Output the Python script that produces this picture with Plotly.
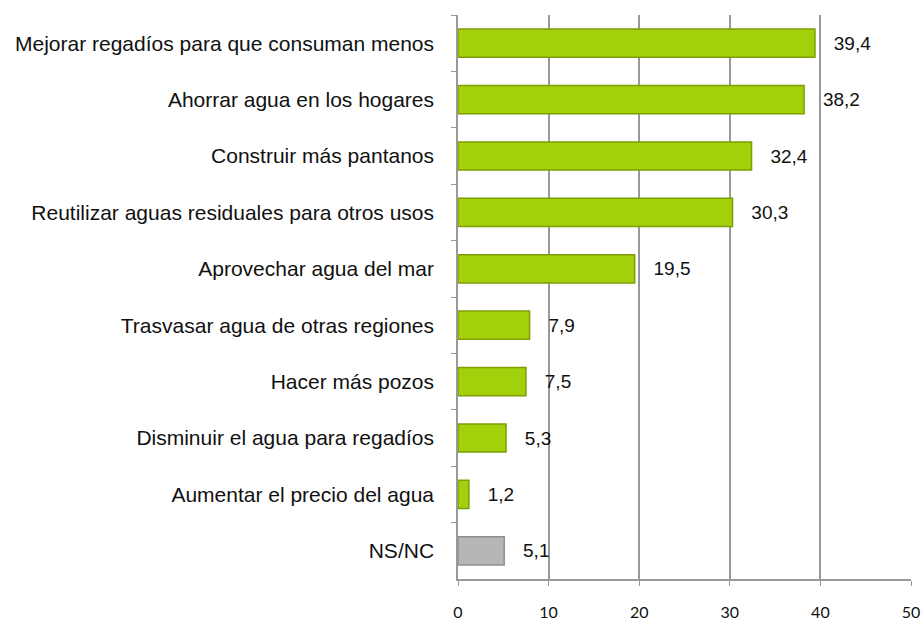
import plotly.graph_objects as go

## Datos

categorias = [
    "Mejorar regadíos para que consuman menos",
    "Ahorrar agua en los hogares",
    "Construir más pantanos",
    "Reutilizar aguas residuales para otros usos",
    "Aprovechar agua del mar",
    "Trasvasar agua de otras regiones",
    "Hacer más pozos",
    "Disminuir el agua para regadíos",
    "Aumentar el precio del agua",
    "NS/NC",
]
valores = [39.4, 38.2, 32.4, 30.3, 19.5, 7.9, 7.5, 5.3, 1.2, 5.1]
ticks_x = [0, 10, 20, 30, 40, 50]

colores = ["#A2D10B"] * 9 + ["#B6B6B6"]
bordes = ["#7E9E04"] * 9 + ["#8E8E8E"]

fig = go.Figure()
fig.add_trace(go.Bar(
    x=valores, y=categorias, orientation="h",
    marker=dict(color=colores, line=dict(color=bordes, width=1.5)),
    texttemplate="\u00a0\u00a0\u00a0%{x:.1f}", textposition="outside",
    textfont=dict(family="Liberation Sans, Arial", size=19, color="#111"),
    cliponaxis=False, width=0.5,
))

fig.update_layout(
    width=924, height=622,
    margin=dict(l=458, r=13, t=15, b=43),
    plot_bgcolor="white", paper_bgcolor="white",
    separators=",.",
    showlegend=False,
    font=dict(family="Liberation Sans, Arial", size=21, color="#111"),
)
fig.update_xaxes(
    range=[0, 50], tickvals=ticks_x, showgrid=True, gridcolor="#999999", gridwidth=1.5,
    showline=True, linecolor="#999999", linewidth=1.5,
    ticks="outside", ticklen=5, tickcolor="#999999",
    tickfont=dict(family="Lato, Open Sans", size=16, color="#111"),
    ticklabelstandoff=13,
    zeroline=False, fixedrange=True, automargin=False,
)
fig.update_yaxes(
    autorange="reversed", categoryorder="array", categoryarray=categorias,
    showline=True, linecolor="#999999", linewidth=1.5,
    ticks="outside", ticklen=5, tickcolor="#999999", tickson="boundaries",
    showgrid=False, ticklabelstandoff=18, automargin=False, fixedrange=True,
)

# quitar el margen del body para que la figura quede en 0,0
fig.write_html("out.html", config={"displayModeBar": False},
               post_script="document.body.style.margin='0';")
